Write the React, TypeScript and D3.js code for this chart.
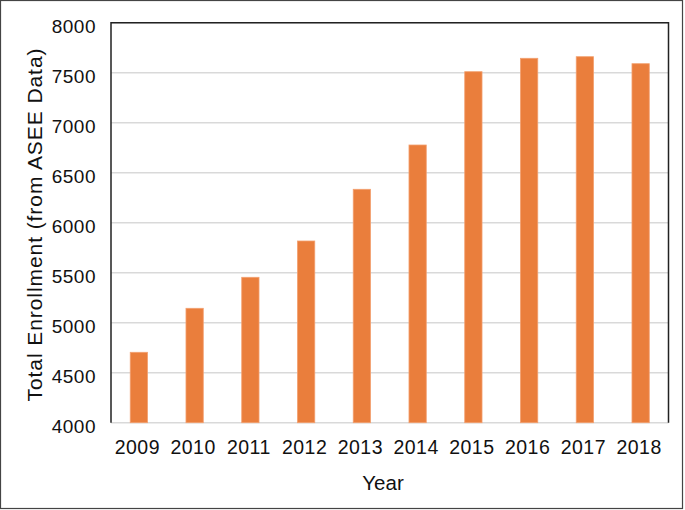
import React from "react";
import * as d3 from "d3";

const years = ["2009", "2010", "2011", "2012", "2013", "2014", "2015", "2016", "2017", "2018"];
const enrollment = [4704, 5144, 5454, 5817, 6334, 6777, 7510, 7644, 7660, 7590];
const yTicks = [4000, 4500, 5000, 5500, 6000, 6500, 7000, 7500, 8000];

const W = 685;
const H = 510;
const left = 111;
const right = 668.5;
const top = 22.7;
const bottom = 422.7;
const font = "'Liberation Sans', Arial, Helvetica, sans-serif";

export default function App() {
  const x = d3.scaleBand<string>().domain(years).range([left, right]).paddingInner(0.69).paddingOuter(0.345);
  const y = d3.scaleLinear().domain([4000, 8000]).range([bottom, top]);
  return (
    <svg width={W} height={H} style={{ position: "absolute", left: 0, top: 0, background: "#fff" }} fontFamily={font}>
      <rect x={0.5} y={0.5} width={682} height={508} fill="#fff" stroke="#444" strokeWidth={1.2} />
      {yTicks.map((t) => (
        <line key={"g" + t} x1={left} x2={right} y1={y(t)} y2={y(t)} stroke="#d9d9d9" strokeWidth={1.5} />
      ))}
      {years.map((yr, i) => (
        <rect
          key={yr}
          x={x(yr)!}
          y={y(enrollment[i])}
          width={x.bandwidth()}
          height={y(4000) - y(enrollment[i])}
          fill="#ea7e3c"
          stroke="#f3a06f"
          strokeWidth={0.8}
        />
      ))}
      <path
        d={`M${left},${bottom} V${top} H${right} V${bottom}`}
        fill="none"
        stroke="#222"
        strokeWidth={1.5}
      />
      {yTicks.map((t) => (
        <text key={"t" + t} x={96} y={y(t) + 10} textAnchor="end" fontSize={19} letterSpacing={0.5} fill="#111">
          {t}
        </text>
      ))}
      {years.map((yr) => (
        <text key={"x" + yr} x={x(yr)! + x.bandwidth() / 2 - 1.5} y={454} textAnchor="middle" fontSize={19.5} letterSpacing={0.5} fill="#111">
          {yr}
        </text>
      ))}
      <text x={383} y={490} textAnchor="middle" fontSize={20.5} fill="#111">
        Year
      </text>
      <text
        transform={`translate(41.5,225) rotate(-90)`}
        textAnchor="middle"
        fontSize={21}
        textLength={353}
        lengthAdjust="spacing"
        fill="#111"
      >
        Total Enrollment (from ASEE Data)
      </text>
    </svg>
  );
}
